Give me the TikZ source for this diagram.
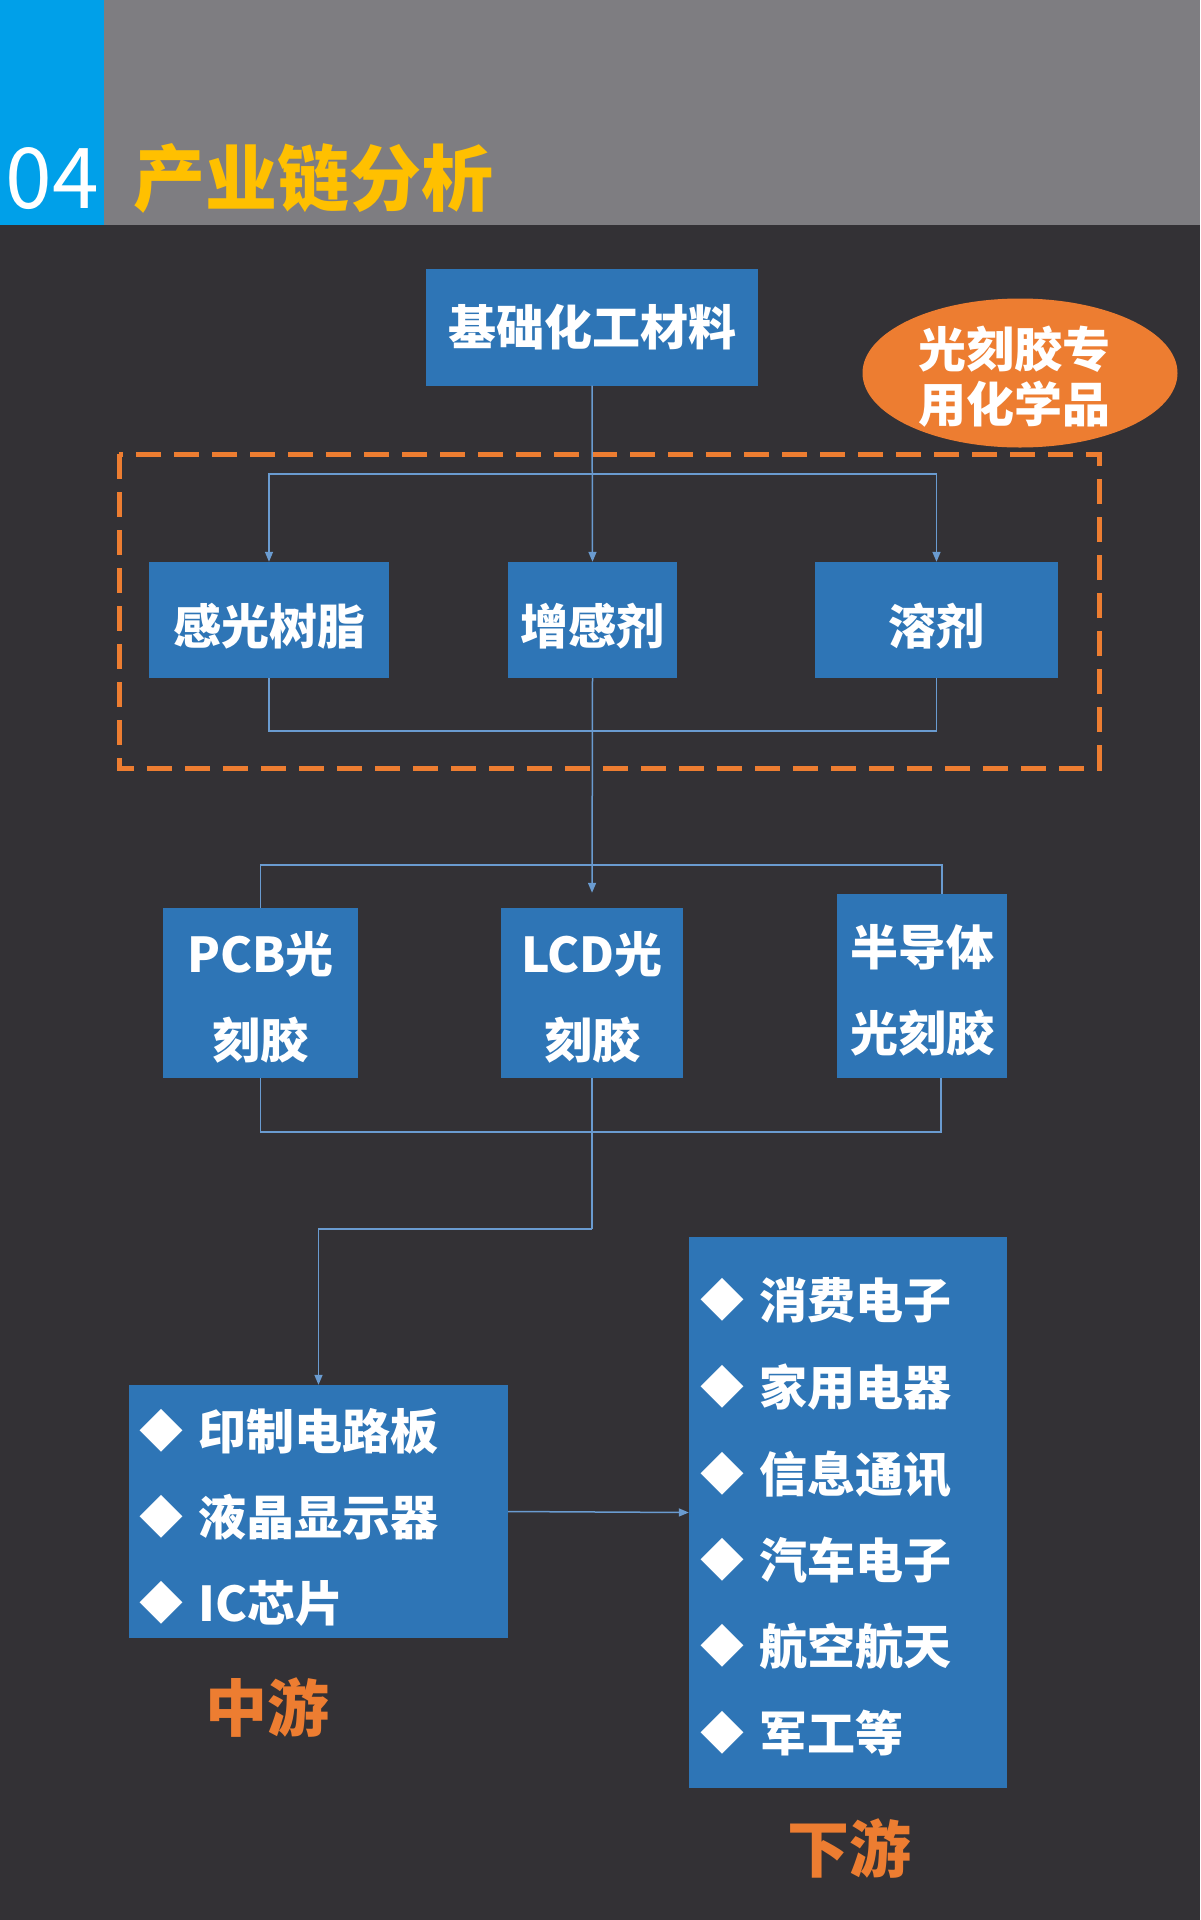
\documentclass[tikz,border=0pt]{standalone}
\usepackage{fontspec}
\setmainfont{Noto Sans CJK SC}
\usetikzlibrary{arrows.meta,shapes.geometric}
\definecolor{bg}{HTML}{333135}
\definecolor{hdrgray}{HTML}{7E7D81}
\definecolor{hdrblue}{HTML}{00A0E9}
\definecolor{titleyellow}{HTML}{FFC000}
\definecolor{boxblue}{HTML}{2E75B6}
\definecolor{accent}{HTML}{ED7D31}
\definecolor{connblue}{HTML}{6A9BD0}
\begin{document}
\begin{tikzpicture}[x=1pt,y=-1pt,
  box/.style={fill=boxblue, inner sep=0pt, text=white, align=center,
    font=\bfseries\fontsize{48}{86}\selectfont},
  boxtext/.style={inner sep=0pt, text=white, align=center,
    font=\bfseries\fontsize{48}{86}\selectfont},
  conn/.style={draw=connblue, line width=1.5pt},
  tip/.style={-{Triangle[length=10pt,width=8pt]}},
  bullet/.style={inner sep=0pt, text=white, font=\fontsize{44}{44}\selectfont},
  item/.style={inner sep=0pt, anchor=west, text=white, font=\bfseries\fontsize{48}{48}\selectfont},
  tierlabel/.style={inner sep=0pt, text=accent, font=\bfseries\fontsize{62}{62}\selectfont}]
\useasboundingbox (0,0) rectangle (1200,1920);
\fill[bg] (0,0) rectangle (1200,1920);
\fill[hdrgray] (0,0) rectangle (1200,225);
\fill[hdrblue] (0,0) rectangle (104,225);
\node[anchor=base, inner sep=0pt, text=white, font=\fontsize{84}{84}\selectfont] (num) at (52,208) {04};
\node[anchor=west, inner sep=0pt, text=titleyellow, font=\bfseries\fontsize{72}{72}\selectfont] (title) at (133,178) {产业链分析};

% top
\node[box, minimum width=332pt, minimum height=117pt] (base) at (592,327) {基础化工材料};
\node[ellipse, fill=accent, inner sep=0pt, minimum width=315pt, minimum height=149pt,
  label={[inner sep=0pt, text=white, align=center, font=\bfseries\fontsize{48}{55}\selectfont, xshift=-6pt, yshift=-4pt]center:光刻胶专\\用化学品}] (spec) at (1020,373) {};
\draw[accent, line width=5pt, dash pattern=on 25pt off 13pt] (119,454) rectangle (1099,768);

% row 1
\node[box, minimum width=240pt, minimum height=116pt, label={[boxtext, yshift=-6pt]center:感光树脂}] (resin) at (269,620) {};
\node[box, minimum width=169pt, minimum height=116pt, label={[boxtext, yshift=-6pt]center:增感剂}] (sens) at (592.5,620) {};
\node[box, minimum width=243pt, minimum height=116pt, label={[boxtext, yshift=-6pt]center:溶剂}] (solv) at (936.5,620) {};

% row 2
\node[box, minimum width=195pt, minimum height=170pt, label={[boxtext, yshift=-4pt]center:PCB光\\刻胶}] (pcb) at (260.5,993) {};
\node[box, minimum width=182pt, minimum height=170pt, label={[boxtext, yshift=-4pt]center:LCD光\\刻胶}] (lcd) at (592,993) {};
\node[box, minimum width=170pt, minimum height=184pt, label={[boxtext, yshift=-4pt]center:半导体\\光刻胶}] (semi) at (922,986) {};

% mid / down
\node[box, minimum width=379pt, minimum height=253pt] (mid) at (318.5,1511.5) {};
\node[box, minimum width=318pt, minimum height=551pt] (down) at (848,1512.5) {};

\foreach \i/\t/\y in {1/印制电路板/1431, 2/液晶显示器/1517, 3/IC芯片/1603}{
  \node[bullet] (mb\i) at (161,\y) {◆};
  \node[item] (mt\i) at (198,\y) {\t};
}
\foreach \i/\t/\y in {1/消费电子/1300, 2/家用电器/1387, 3/信息通讯/1474, 4/汽车电子/1560, 5/航空航天/1646, 6/军工等/1733}{
  \node[bullet] (db\i) at (722,\y) {◆};
  \node[item] (dt\i) at (759,\y) {\t};
}
\node[tierlabel] (midlbl) at (267,1708) {中游};
\node[tierlabel] (downlbl) at (849,1848) {下游};

% connectors
\coordinate (j1) at (592,474);
\coordinate (j2) at (592,731);
\coordinate (j3) at (592,865);
\coordinate (j4) at (592,1132);
\coordinate (j5) at (592,1229);
\draw[conn, tip] (base.south) -- (sens.north);
\draw[conn, tip] (j1) -| (resin.north);
\draw[conn, tip] (j1) -| (solv.north);
\draw[conn] (resin.south) |- (j2);
\draw[conn] (solv.south) |- (j2);
\draw[conn, tip, shorten >=15pt] (sens.south) -- (lcd.north);
\draw[conn] (j3) -| (pcb.north);
\draw[conn] (j3) -| ([xshift=20pt]semi.north);
\draw[conn] (pcb.south) |- (j4);
\draw[conn] ([xshift=19pt]semi.south) |- (j4);
\draw[conn] (lcd.south) -- (j5);
\draw[conn, tip] (j5) -| (mid.north);
\draw[conn, tip] (mid.east) -- (down.west);
\end{tikzpicture}
\end{document}
